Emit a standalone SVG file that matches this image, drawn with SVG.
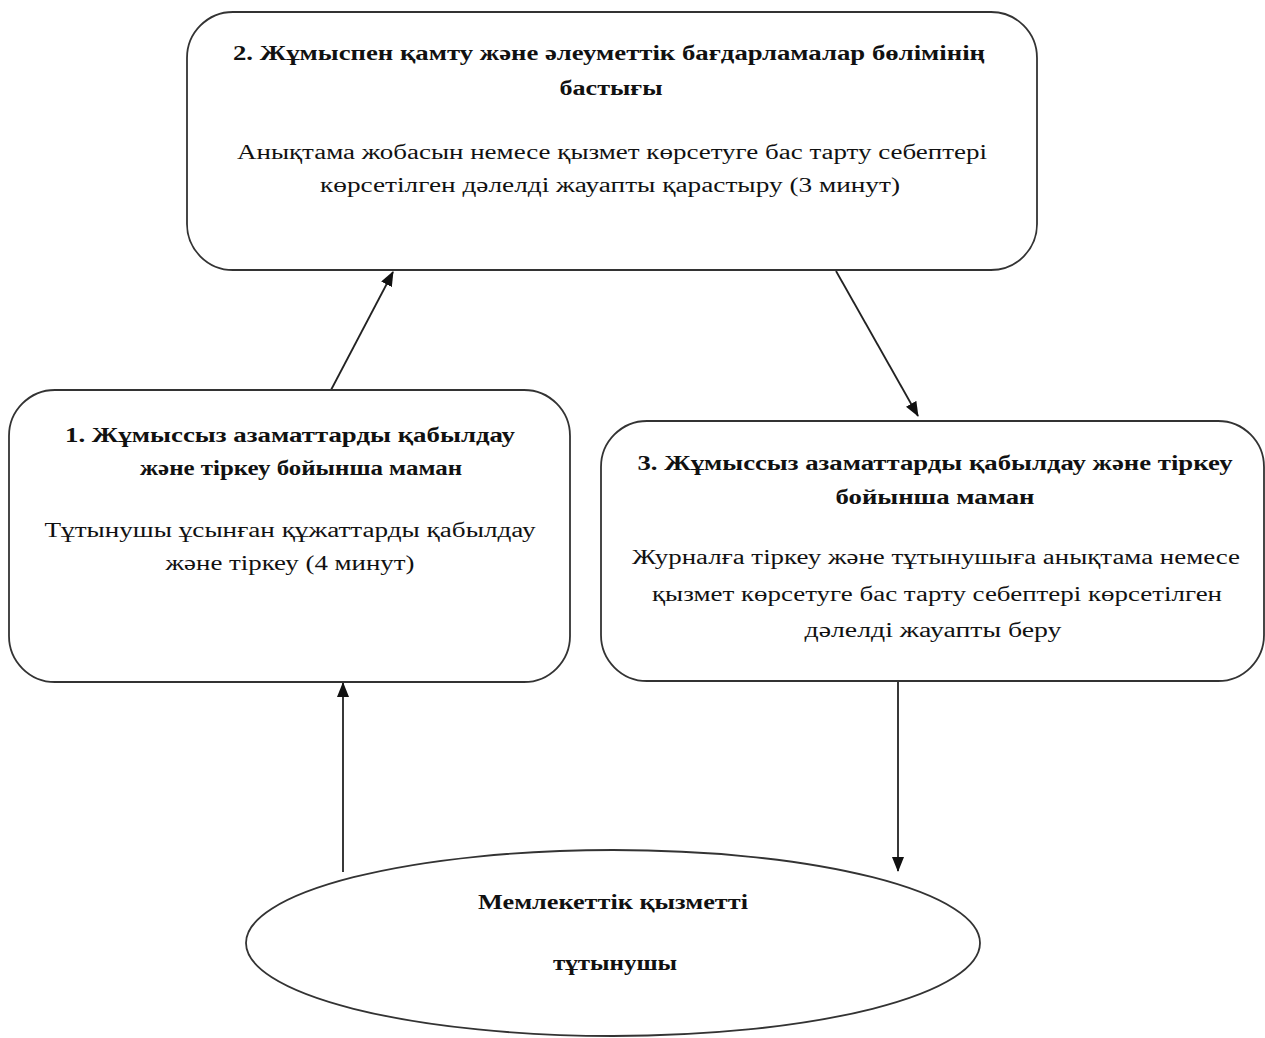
<svg xmlns="http://www.w3.org/2000/svg" width="1265" height="1038" viewBox="0 0 1265 1038">
  <style>
    .box { fill: #ffffff; stroke: #333333; stroke-width: 1.8; }
    .edge { fill: none; stroke: #222222; stroke-width: 1.8; }
    .t { font-family: "Liberation Serif", "Times New Roman", serif; font-size: 20px; fill: #111111; text-anchor: middle; }
    .b { font-weight: bold; }
  </style>
  <defs>
    <marker id="arrow" viewBox="0 0 15 12" refX="14" refY="6" markerWidth="15" markerHeight="12" markerUnits="userSpaceOnUse" orient="auto">
      <path d="M0,0 L15,6 L0,12 Z" fill="#111111"/>
    </marker>
  </defs>
  <rect width="1265" height="1038" fill="#ffffff"/>

  <!-- connectors -->
  <g id="connectors">
    <line class="edge" x1="331" y1="390" x2="393" y2="272" marker-end="url(#arrow)"/>
    <line class="edge" x1="836" y1="271" x2="918" y2="416" marker-end="url(#arrow)"/>
    <line class="edge" x1="343" y1="872" x2="343" y2="683" marker-end="url(#arrow)"/>
    <line class="edge" x1="898" y1="682" x2="898" y2="871" marker-end="url(#arrow)"/>
  </g>

  <!-- step 2: head of department -->
  <g id="node-head">
    <rect class="box" x="187" y="12" width="850" height="258" rx="46" ry="46"/>
    <text class="t b" x="609" y="60" textLength="752" lengthAdjust="spacingAndGlyphs">2. Жұмыспен қамту және әлеуметтік бағдарламалар бөлімінің</text>
    <text class="t b" x="611" y="95" textLength="103" lengthAdjust="spacingAndGlyphs">бастығы</text>
    <text class="t" x="612" y="159" textLength="750" lengthAdjust="spacingAndGlyphs">Анықтама жобасын немесе қызмет көрсетуге бас тарту себептері</text>
    <text class="t" x="610" y="192" textLength="580" lengthAdjust="spacingAndGlyphs">көрсетілген дәлелді жауапты қарастыру (3 минут)</text>
  </g>

  <!-- step 1: registration specialist -->
  <g id="node-intake">
    <rect class="box" x="9" y="390" width="561" height="292" rx="46" ry="46"/>
    <text class="t b" x="290" y="442" textLength="450" lengthAdjust="spacingAndGlyphs">1. Жұмыссыз азаматтарды қабылдау</text>
    <text class="t b" x="301" y="475" textLength="322" lengthAdjust="spacingAndGlyphs">және тіркеу бойынша маман</text>
    <text class="t" x="290" y="537" textLength="491" lengthAdjust="spacingAndGlyphs">Тұтынушы ұсынған құжаттарды қабылдау</text>
    <text class="t" x="290" y="570" textLength="249" lengthAdjust="spacingAndGlyphs">және тіркеу (4 минут)</text>
  </g>

  <!-- step 3: registration specialist, issuing -->
  <g id="node-issue">
    <rect class="box" x="601" y="421" width="663" height="260" rx="46" ry="46"/>
    <text class="t b" x="935" y="470" textLength="595" lengthAdjust="spacingAndGlyphs">3. Жұмыссыз азаматтарды қабылдау және тіркеу</text>
    <text class="t b" x="935" y="504" textLength="199" lengthAdjust="spacingAndGlyphs">бойынша маман</text>
    <text class="t" x="936" y="564" textLength="608" lengthAdjust="spacingAndGlyphs">Журналға тіркеу және тұтынушыға анықтама немесе</text>
    <text class="t" x="937" y="601" textLength="570" lengthAdjust="spacingAndGlyphs">қызмет көрсетуге бас тарту себептері көрсетілген</text>
    <text class="t" x="933" y="637" textLength="257" lengthAdjust="spacingAndGlyphs">дәлелді жауапты беру</text>
  </g>

  <!-- service consumer -->
  <g id="node-consumer">
    <ellipse class="box" cx="613" cy="943" rx="367" ry="93"/>
    <text class="t b" x="613" y="909" textLength="270" lengthAdjust="spacingAndGlyphs">Мемлекеттік қызметті</text>
    <text class="t b" x="615" y="970" textLength="124" lengthAdjust="spacingAndGlyphs">тұтынушы</text>
  </g>
</svg>
